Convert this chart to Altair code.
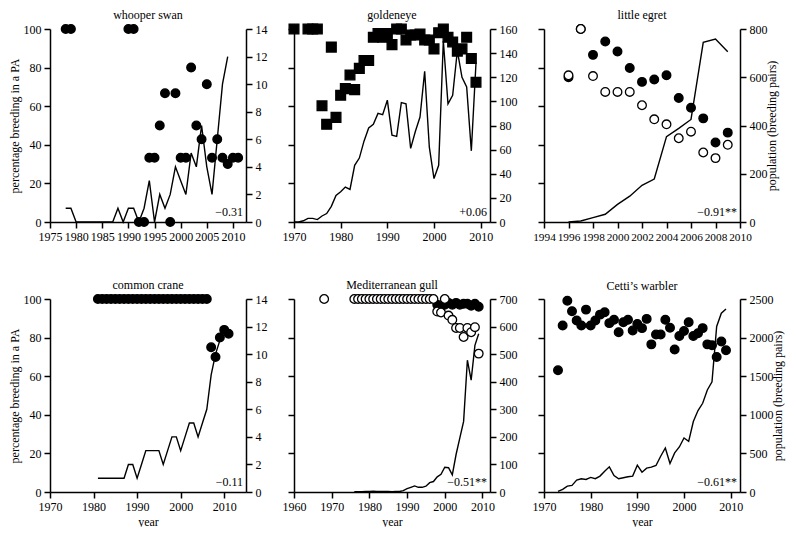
import altair as alt
import pandas as pd

FONT = "Liberation Serif"
W = 196
H = 193

# ---------------- data ----------------
# whooper swan
swan_pct_years = [1978, 1979, 1990, 1991, 1992, 1993, 1994, 1995, 1996, 1997, 1998, 1999,
                  2000, 2001, 2002, 2003, 2004, 2005, 2006, 2007, 2008, 2009, 2010, 2011]
swan_pct = [100, 100, 100, 100, 0, 0, 33.3, 33.3, 50, 66.7, 0, 66.7,
            33.3, 33.3, 80, 50, 42.9, 71.4, 33.3, 42.9, 33.3, 30, 33.3, 33.3]
swan_pop_years = list(range(1978, 2010))
swan_pop = [1, 1, 0, 0, 0, 0, 0, 0, 0, 0, 1, 0, 1, 1, 0, 1, 3, 0, 2, 1, 2, 4, 3, 2, 5, 4, 7, 4, 2, 6, 10, 12]

# goldeneye
gold_pct_years = [1970, 1973, 1974, 1975, 1976, 1977, 1978, 1979, 1980, 1981, 1982, 1983, 1984,
                  1985, 1986, 1987, 1988, 1989, 1990, 1991, 1992, 1993, 1994, 1995, 1996, 1997,
                  1998, 1999, 2000, 2001, 2002, 2003, 2004, 2005, 2006, 2007, 2008, 2009]
gold_pct = [100, 100, 100, 100, 60.2, 50.6, 90.6, 54.2, 65.7, 69.1, 76.2, 68.6, 79.6,
            83.7, 83.7, 95.7, 97.6, 95.7, 97.6, 91.9, 100, 100, 94.3, 96.9, 96.9, 97.4,
            94.3, 94.3, 89.7, 98.1, 100, 95.7, 93.3, 88.5, 89.7, 95.7, 84.7, 72.4]
gold_pop_years = list(range(1970, 2010))
gold_pop = [0, 0, 1, 3, 3, 2, 5, 7, 13, 22, 25, 29, 27, 47, 53, 67, 78, 81, 90, 89,
            101, 72, 71, 99, 98, 61, 75, 87, 125, 62, 36, 47, 150, 98, 105, 142, 120, 112, 59, 132]

# little egret
egret_years = list(range(1996, 2010))
egret_pct_filled = [75, 100, 86.6, 93.5, 88.3, 79.8, 72.6, 73.8, 76, 64.3, 59.2, 53.7, 41.2, 46.3]
egret_pct_open = [76, 100, 75.6, 67.4, 67.4, 67.4, 60.5, 53.2, 50.6, 43.4, 46.8, 36, 33.1, 40]
egret_pop = [0, 4, 18, 32, 73, 107, 152, 178, 354, 388, 425, 745, 758, 706]

# common crane
crane_pct_years = list(range(1981, 2012))
crane_pct = [100] * 26 + [75, 70, 80, 84, 82]
crane_pop_years = list(range(1981, 2012))
crane_pop = [1, 1, 1, 1, 1, 1, 1, 2, 2, 1, 2, 3, 3, 3, 3, 2, 3, 4, 4, 3, 4, 5, 5, 4, 5, 6,
             8.5, 10, 11, 12, 11.5]

# Mediterranean gull
gull_filled_years = list(range(1998, 2010))
gull_pct_filled = [97, 96, 97, 98, 97, 98, 97, 97.5, 97.5, 96.5, 97.5, 96]
gull_open_years = [1968] + list(range(1976, 2010))
gull_pct_open = [100] + [100] * 22 + [93.5, 93, 100, 91.4, 89.2, 85, 85, 80.3, 85, 82.8, 85.4, 71.7]
gull_pop_years = list(range(1976, 2010))
gull_pop = [1, 1, 1, 2, 2, 3, 2, 2, 2, 2, 1, 2, 2, 5, 12, 17, 22, 17, 17, 21, 34, 38, 55, 64,
            90, 88, 62, 136, 196, 256, 478, 406, 532, 574]

# Cetti's warbler
cetti_years = list(range(1973, 2010))
cetti_pct = [63.1, 86.3, 99.1, 93.7, 88.9, 86.3, 94.5, 86.3, 88.9, 91.9, 93.1, 87.5, 89.2,
             82.8, 88, 89.2, 83.7, 87.1, 84.9, 89.7, 76.5, 81.6, 81.6, 89.2, 85.1, 73.8,
             80.8, 83.4, 88, 80.8, 82.3, 84.9, 76.5, 76, 70, 78, 73.4]
cetti_pop = [9, 34, 77, 86, 154, 172, 163, 189, 172, 206, 270, 326, 214, 172, 184, 197, 206,
             347, 257, 309, 322, 343, 463, 570, 369, 506, 583, 699, 656, 913, 1055, 1149,
             1321, 1428, 2144, 2316, 2371]

pct_ticks = [0, 20, 40, 60, 80, 100]

AX = dict(labelFont=FONT, titleFont=FONT, titleFontSize=12,
          titleFontWeight="normal", labelColor="black", titleColor="black", minExtent=0)


def make_panel(title, xdom, xticks, fy, fv, oy, ov, shape, size, ly, lv, ydom, yticks, note,
               left_labels, right_title, x_title, xlabel_size=12):
    pts = pd.DataFrame({
        "year": list(fy) + list(oy),
        "pct": list(fv) + list(ov),
        "kind": ["filled"] * len(fy) + ["open"] * len(oy),
    })
    pop = pd.DataFrame({"year": ly, "pop": lv})
    xscale = alt.Scale(domain=xdom, nice=False, zero=False)
    xaxis = alt.Axis(values=xticks, format="d", title="year" if x_title else None,
                     labelFlush=False, labelOverlap=False, labelBound=False, titlePadding=4,
                     labelFontSize=xlabel_size, **AX)
    raxis_kw = dict(orient="right", values=yticks, format="d", labelFlush=False,
                    labelOverlap=False, labelFontSize=12, **AX)
    if right_title:
        raxis_kw.update(title="population (breeding pairs)", titleAngle=270,
                        titlePadding=11, titleBaseline="bottom")
    else:
        raxis_kw.update(title=None)
    laxis_kw = dict(orient="left", values=pct_ticks, labels=left_labels, labelFlush=False,
                    labelFontSize=12, **AX)
    if left_labels:
        laxis_kw.update(title="percentage breeding in a PA", titlePadding=2)
    else:
        laxis_kw.update(title=None)

    line = alt.Chart(pop).mark_line(color="black", strokeWidth=1.4).encode(
        x=alt.X("year:Q", scale=xscale, axis=xaxis),
        y=alt.Y("pop:Q", scale=alt.Scale(domain=ydom, nice=False, zero=True),
                axis=alt.Axis(**raxis_kw)),
    )
    points = alt.Chart(pts).mark_point(
        shape=shape, size=size, stroke="black", strokeWidth=1.3, opacity=1, fillOpacity=1
    ).encode(
        x=alt.X("year:Q", scale=xscale, axis=xaxis),
        y=alt.Y("pct:Q", scale=alt.Scale(domain=[0, 100], nice=False),
                axis=alt.Axis(**laxis_kw)),
        fill=alt.Fill("kind:N", scale=alt.Scale(domain=["filled", "open"], range=["black", "white"]),
                      legend=None),
    )
    txt = alt.Chart(pd.DataFrame({"t": [note]})).mark_text(
        align="right", baseline="bottom", font=FONT, fontSize=12, color="black"
    ).encode(text="t:N", x=alt.value(W - 3), y=alt.value(H - 3))

    return alt.layer(line, points, txt).resolve_scale(y="independent").properties(
        width=W, height=H,
        title=alt.TitleParams(title, font=FONT, fontSize=12, fontWeight="normal", offset=0, color="black"),
    )


p1 = make_panel("whooper swan", [1975, 2012.5], list(range(1975, 2011, 5)),
                swan_pct_years, swan_pct, [], [], "circle", 75,
                swan_pop_years, swan_pop, [0, 14], list(range(0, 15, 2)), "\u22120.31",
                True, False, False)
p2 = make_panel("goldeneye", [1970, 2012], list(range(1970, 2011, 10)),
                gold_pct_years, gold_pct, [], [], "square", 95,
                gold_pop_years, gold_pop, [0, 160], list(range(0, 161, 20)), "+0.06",
                False, False, False)
p3 = make_panel("little egret", [1994, 2010], list(range(1994, 2011, 2)),
                egret_years, egret_pct_filled, egret_years, egret_pct_open, "circle", 75,
                egret_years, egret_pop, [0, 800], list(range(0, 801, 200)), "\u22120.91**",
                False, True, False, xlabel_size=11.3)
p4 = make_panel("common crane", [1970, 2015], list(range(1970, 2011, 10)),
                crane_pct_years, crane_pct, [], [], "circle", 75,
                crane_pop_years, crane_pop, [0, 14], list(range(0, 15, 2)), "\u22120.11",
                True, False, True)
p5 = make_panel("Mediterranean gull", [1960, 2012], list(range(1960, 2011, 10)),
                gull_filled_years, gull_pct_filled, gull_open_years, gull_pct_open, "circle", 75,
                gull_pop_years, gull_pop, [0, 700], list(range(0, 701, 100)), "\u22120.51**",
                False, False, True)
p6 = make_panel("Cetti\u2019s warbler", [1970, 2012], list(range(1970, 2011, 10)),
                cetti_years, cetti_pct, [], [], "circle", 75,
                cetti_years, cetti_pop, [0, 2500], list(range(0, 2501, 500)), "\u22120.61**",
                False, True, True)

chart = alt.vconcat(
    alt.hconcat(p1, p2, p3, spacing=15),
    alt.hconcat(p4, p5, p6, spacing=15),
    spacing=36,
).properties(
    padding={"left": 0, "top": 0, "right": 4, "bottom": 0}
).configure_view(stroke=None).configure_axis(
    grid=False,
    domainColor="black", domainWidth=1.5,
    tickColor="black", tickWidth=1.5, tickSize=6,
    labelColor="black", labelFont=FONT, labelFontSize=12, labelPadding=3,
    titleColor="black", titleFont=FONT, titleFontSize=12, titleFontWeight="normal",
).configure_title(font=FONT, fontSize=12, fontWeight="normal", anchor="middle")

chart.save("out.html", embed_options={"renderer": "svg", "actions": False})
